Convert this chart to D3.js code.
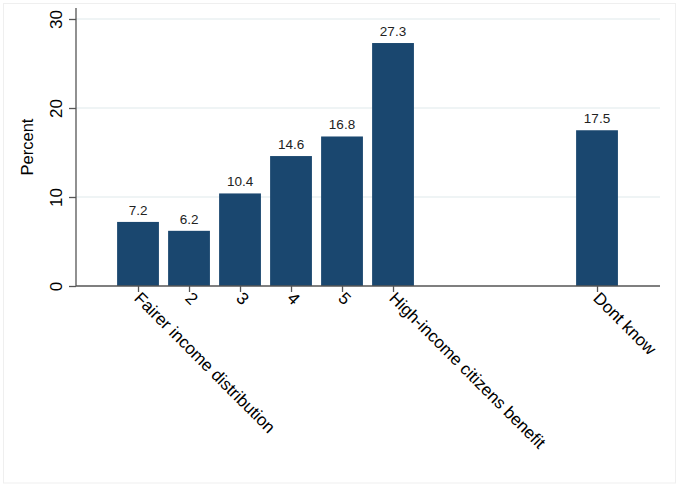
<!DOCTYPE html>
<html>
<head>
<meta charset="utf-8">
<script src="https://cdn.jsdelivr.net/npm/d3@7"></script>
<style>
  body { margin: 0; background: #fff; }
  text { font-family: "Liberation Sans", Arial, Helvetica, sans-serif; }
</style>
</head>
<body>
<div id="app"></div>
<script>
// data
const positions = [1, 2, 3, 4, 5, 6, 10]
const labels = ['Fairer income distribution', '2', '3', '4', '5', 'High-income citizens benefit', 'Dont know']
const percents = [7.2, 6.2, 10.4, 14.6, 16.8, 27.3, 17.5]
const yTicks = [0, 10, 20, 30]

const W = 678, H = 492
const plot = { left: 76, right: 660, top: 8, bottom: 286 }

const svg = d3.select('#app')
  .append('svg')
    .attr('width', W)
    .attr('height', H)

// outer frame (faint)
svg.append('rect')
  .attr('x', 3.5).attr('y', 3.5)
  .attr('width', 672).attr('height', 479.5)
  .attr('fill', '#fff')
  .attr('stroke', '#efefef')

// scales
const xScale = d3.scaleLinear()
  .domain([-0.216, 11.235])
  .range([plot.left, plot.right])
const yScale = d3.scaleLinear()
  .domain([0, 30])
  .range([plot.bottom, 19])
const barW = xScale(0.82) - xScale(0)

// gridlines
svg.append('g')
  .selectAll('line')
  .data(yTicks.filter(d => d > 0))
  .join('line')
    .attr('x1', plot.left).attr('x2', plot.right)
    .attr('y1', d => yScale(d)).attr('y2', d => yScale(d))
    .attr('stroke', '#eaf0f2')
    .attr('stroke-width', 1.5)

// bars
const data = positions.map((p, i) => ({ pos: p, label: labels[i], value: percents[i] }))
svg.append('g')
  .selectAll('rect')
  .data(data)
  .join('rect')
    .attr('x', d => xScale(d.pos) - barW / 2)
    .attr('y', d => yScale(d.value))
    .attr('width', barW)
    .attr('height', d => yScale(0) - yScale(d.value))
    .attr('fill', '#1a476f')

// value labels
svg.append('g')
  .selectAll('text')
  .data(data)
  .join('text')
    .attr('x', d => xScale(d.pos))
    .attr('y', d => yScale(d.value) - 7)
    .attr('text-anchor', 'middle')
    .attr('font-size', 13.5)
    .attr('fill', '#222')
    .text(d => d.value.toFixed(1))

// y axis
const yAxis = svg.append('g')
  .attr('transform', `translate(${plot.left}, 0)`)
  .call(d3.axisLeft(yScale).tickValues(yTicks).tickSize(7).tickPadding(0).tickFormat(d3.format('d')))
yAxis.select('.domain')
  .attr('d', `M0,${plot.bottom}V${plot.top}`)
  .attr('stroke', '#555').attr('stroke-width', 1.3)
yAxis.selectAll('.tick line').attr('stroke', '#555').attr('stroke-width', 1.3)
yAxis.selectAll('.tick text')
  .attr('font-size', 17)
  .attr('fill', '#000')
  .attr('text-anchor', 'middle')
  .attr('x', 0).attr('dy', 0)
  .attr('transform', 'translate(-14, 0) rotate(-90)')

// x axis
const xAxis = svg.append('g')
  .attr('transform', `translate(0, ${plot.bottom})`)
  .call(d3.axisBottom(xScale).tickValues(positions).tickSize(6).tickFormat((d, i) => labels[i]))
xAxis.select('.domain')
  .attr('d', `M${plot.left},0H${plot.right}`)
  .attr('stroke', '#555').attr('stroke-width', 1.3)
xAxis.selectAll('.tick line').attr('stroke', '#555').attr('stroke-width', 1.3)
xAxis.selectAll('.tick text')
  .attr('font-size', 17)
  .attr('fill', '#000')
  .attr('text-anchor', 'start')
  .attr('y', 0).attr('dy', '0.35em')
  .attr('transform', 'translate(-1, 9) rotate(45)')

// y title
svg.append('text')
  .attr('transform', `translate(33, ${(plot.top + plot.bottom) / 2}) rotate(-90)`)
  .attr('text-anchor', 'middle')
  .attr('font-size', 16.5)
  .attr('fill', '#000')
  .text('Percent')
</script>
</body>
</html>
